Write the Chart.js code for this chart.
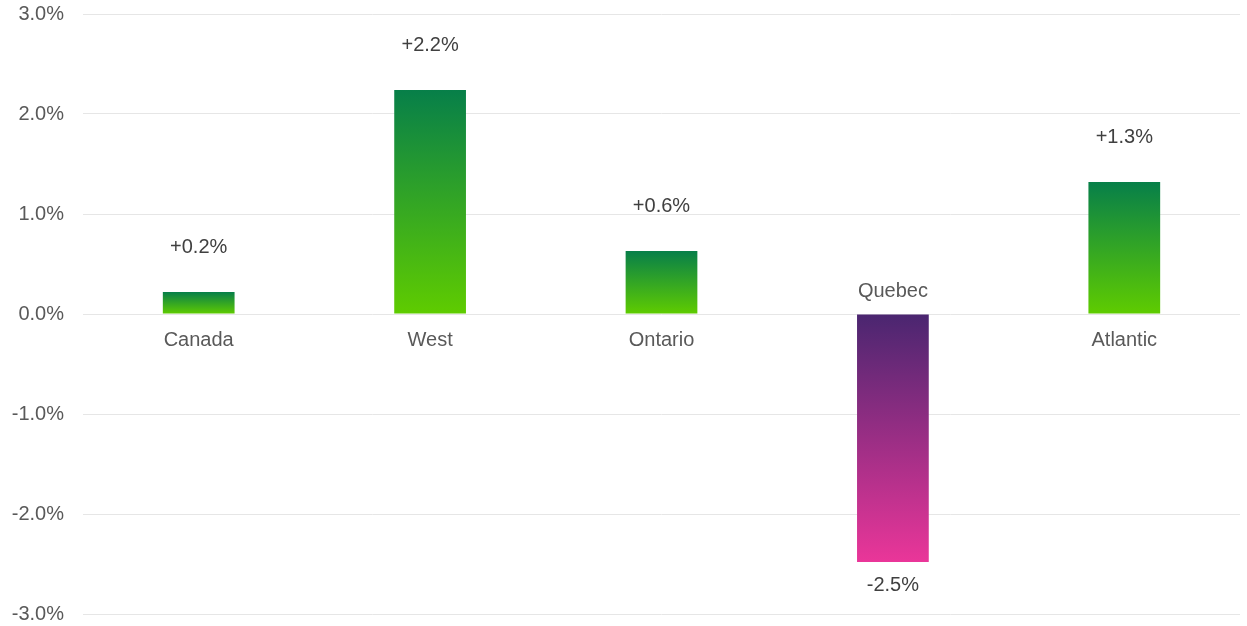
<!DOCTYPE html>
<html>
<head>
<meta charset="utf-8">
<script src="https://cdn.jsdelivr.net/npm/chart.js@4.4.1/dist/chart.umd.min.js"></script>
<style>
  html, body { margin: 0; padding: 0; background: #fff; }
  #wrap { width: 1247px; height: 626px; }
</style>
</head>
<body>
<div id="wrap"><canvas id="bar-chart"></canvas></div>
<script>
const regions = ['Canada', 'West', 'Ontario', 'Quebec', 'Atlantic'];
const changes = [0.22, 2.24, 0.63, -2.48, 1.32];
const valueLabels = ['+0.2%', '+2.2%', '+0.6%', '-2.5%', '+1.3%'];

const FONT = '"Liberation Sans", Arial, sans-serif';

function barGradient(context) {
    const chart = context.chart;
    const area = chart.chartArea;
    if (!area) return '#2a9a30';
    const v = context.dataset.data[context.dataIndex];
    const y = chart.scales.y;
    const top = y.getPixelForValue(Math.max(v, 0));
    const bottom = y.getPixelForValue(Math.min(v, 0));
    const g = chart.ctx.createLinearGradient(0, top, 0, bottom);
    if (v >= 0) {
        g.addColorStop(0, '#077f49');
        g.addColorStop(1, '#5fcc00');
    } else {
        g.addColorStop(0, '#4a2670');
        g.addColorStop(1, '#ea3699');
    }
    return g;
}

// draws value labels and category names next to each bar
const barLabels = {
    id: 'barLabels',
    afterDatasetsDraw(chart) {
        const ctx = chart.ctx;
        const meta = chart.getDatasetMeta(0);
        const zero = chart.scales.y.getPixelForValue(0);
        ctx.save();
        ctx.font = '20px ' + FONT;
        ctx.textAlign = 'center';
        ctx.textBaseline = 'middle';
        meta.data.forEach((bar, i) => {
            const v = changes[i];
            ctx.fillStyle = '#404040';
            if (v >= 0) {
                ctx.fillText(valueLabels[i], bar.x, bar.y - 45);
                ctx.fillStyle = '#595959';
                ctx.fillText(regions[i], bar.x, zero + 26);
            } else {
                ctx.fillText(valueLabels[i], bar.x, bar.y + 23);
                ctx.fillStyle = '#595959';
                ctx.fillText(regions[i], bar.x, zero - 23);
            }
        });
        ctx.restore();
    }
};

const ctx = document.getElementById('bar-chart').getContext('2d');
window.myBar = new Chart(ctx, {
    type: 'bar',
    data: {
        labels: regions,
        datasets: [{
            data: changes,
            backgroundColor: barGradient,
            borderWidth: 0,
            barPercentage: 1,
            categoryPercentage: 0.31
        }]
    },
    options: {
        responsive: true,
        maintainAspectRatio: false,
        animation: false,
        layout: { padding: { top: 14, right: 7, bottom: 12, left: 0 } },
        plugins: {
            legend: { display: false },
            tooltip: { enabled: false }
        },
        scales: {
            x: {
                display: false
            },
            y: {
                min: -3,
                max: 3,
                afterFit(scale) {
                    // let the end tick labels overhang the canvas padding
                    scale.paddingTop = 0;
                    scale.paddingBottom = 0;
                    scale.width = 83;
                },
                ticks: {
                    stepSize: 1,
                    color: '#595959',
                    padding: 19,
                    font: { family: FONT, size: 20 },
                    callback(val) { return val.toFixed(1) + '%'; }
                },
                border: { display: false },
                grid: { color: '#e6e6e6', drawTicks: false }
            }
        }
    },
    plugins: [barLabels]
});
</script>
</body>
</html>
